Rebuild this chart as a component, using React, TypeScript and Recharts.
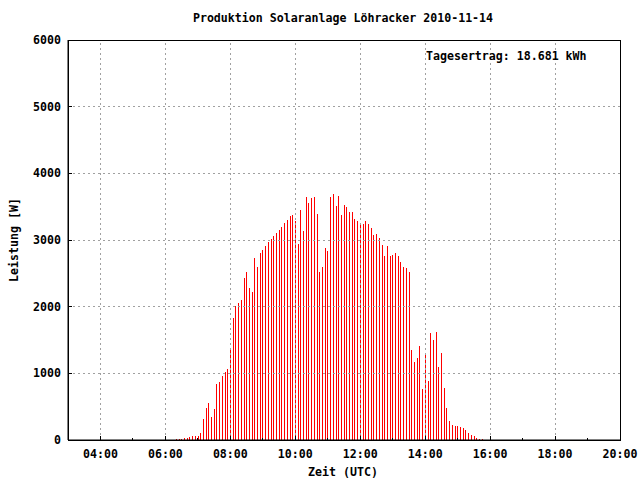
import { ComposedChart, Bar, XAxis, YAxis, ReferenceLine, ReferenceArea } from 'recharts';

// 5-minute samples, Leistung in W
const times = [
  '06:20', '06:25', '06:30', '06:35', '06:40', '06:45', '06:50', '06:55',
  '07:00', '07:05', '07:10', '07:15', '07:20', '07:25', '07:30', '07:35', '07:40', '07:45', '07:50', '07:55',
  '08:00', '08:05', '08:10', '08:15', '08:20', '08:25', '08:30', '08:35', '08:40', '08:45', '08:50', '08:55',
  '09:00', '09:05', '09:10', '09:15', '09:20', '09:25', '09:30', '09:35', '09:40', '09:45', '09:50', '09:55',
  '10:00', '10:05', '10:10', '10:15', '10:20', '10:25', '10:30', '10:35', '10:40', '10:45', '10:50', '10:55',
  '11:00', '11:05', '11:10', '11:15', '11:20', '11:25', '11:30', '11:35', '11:40', '11:45', '11:50', '11:55',
  '12:00', '12:05', '12:10', '12:15', '12:20', '12:25', '12:30', '12:35', '12:40', '12:45', '12:50', '12:55',
  '13:00', '13:05', '13:10', '13:15', '13:20', '13:25', '13:30', '13:35', '13:40', '13:45', '13:50', '13:55',
  '14:00', '14:05', '14:10', '14:15', '14:20', '14:25', '14:30', '14:35', '14:40', '14:45', '14:50', '14:55',
  '15:00', '15:05', '15:10', '15:15', '15:20', '15:25', '15:30', '15:35', '15:40', '15:45',
];

const power = [
  20, 20, 20, 35, 35, 50, 65, 65,
  65, 110, 320, 485, 560, 350, 470, 845, 875, 965, 1025, 1070,
  1385, 1835, 2015, 2060, 2105, 2435, 2525, 2285, 2225, 2735, 2600, 2810,
  2855, 2915, 2975, 3020, 3065, 3110, 3155, 3200, 3260, 3305, 3365, 3380,
  3290, 2945, 3455, 3140, 3650, 3560, 3635, 3650, 3395, 2525, 2600, 2885,
  2840, 3650, 3695, 3515, 3665, 3380, 3530, 3500, 3425, 3425, 3320, 3290,
  3260, 3245, 3290, 3245, 3185, 3080, 3095, 3035, 2930, 2765, 2915, 2765,
  2780, 2810, 2765, 2675, 2600, 2585, 2525, 1355, 1175, 1235, 1415, 770,
  1295, 890, 1610, 1505, 1625, 1100, 1310, 785, 485, 290, 230, 215,
  215, 200, 185, 155, 110, 80, 65, 35, 20, 20,
];

const hourTicks = [4, 5, 6, 7, 8, 9, 10, 11, 12, 13, 14, 15, 16, 17, 18, 19, 20];
const gridHours = [4, 6, 8, 10, 12, 14, 16, 18];
const powerTicks = [0, 1000, 2000, 3000, 4000, 5000, 6000];
const gridPower = [1000, 2000, 3000, 4000, 5000];

const toHours = (t: string) => {
  const [h, m] = t.split(':').map(Number);
  return h + m / 60;
};

const data = times.map((t, i) => ({ t: toHours(t), w: power[i] }));

const FONT = "'DejaVu Sans Mono', monospace";
const textStyle = { fontFamily: FONT, fontSize: 11.6, fontWeight: 700, fill: '#000' };

const fmtHour = (h: number) => `${String(h).padStart(2, '0')}:00`;

// gnuplot-style ticks point into the plot
function BottomTick(props: any) {
  const { x, y, payload } = props;
  const major = payload.value % 2 === 0;
  return (
    <g>
      <line x1={x} y1={y} x2={x} y2={y - (major ? 4 : 2)} stroke="#000" shapeRendering="crispEdges" />
      {major && (
        <text x={x} y={y + 18} textAnchor="middle" style={textStyle}>
          {fmtHour(payload.value)}
        </text>
      )}
    </g>
  );
}

function TopTick(props: any) {
  const { x, y, payload } = props;
  const major = payload.value % 2 === 0;
  return <line x1={x} y1={y} x2={x} y2={y + (major ? 4 : 2)} stroke="#000" shapeRendering="crispEdges" />;
}

function LeftTick(props: any) {
  const { x, y, payload } = props;
  return (
    <g>
      <line x1={x} y1={y} x2={x + 4} y2={y} stroke="#000" shapeRendering="crispEdges" />
      <text x={x - 7} y={y + 4} textAnchor="end" style={textStyle}>
        {payload.value}
      </text>
    </g>
  );
}

function RightTick(props: any) {
  const { x, y } = props;
  return <line x1={x} y1={y} x2={x - 4} y2={y} stroke="#000" shapeRendering="crispEdges" />;
}

// one-pixel impulse, kept sharp
function Impulse(props: any) {
  const { x, y, width, height } = props;
  return (
    <rect x={x} y={y} width={width} height={height} fill="#ff0000" shapeRendering="crispEdges" />
  );
}

export default function App() {
  return (
    <div style={{ position: 'absolute', left: 0, top: 0, width: 640, height: 480, background: '#fff' }}>
      <ComposedChart
        width={640}
        height={480}
        data={data}
        margin={{ top: 40, right: 20, bottom: 0, left: 0 }}
      >
        <XAxis
          dataKey="t"
          type="number"
          domain={[3, 20]}
          allowDataOverflow
          ticks={hourTicks}
          interval={0}
          height={40}
          tickSize={0}
          tickMargin={0}
          tickLine={false}
          axisLine={{ stroke: '#000' }}
          tick={<BottomTick />}
        />
        <XAxis
          xAxisId="top"
          orientation="top"
          type="number"
          domain={[3, 20]}
          ticks={hourTicks}
          interval={0}
          height={0}
          tickSize={0}
          tickMargin={0}
          tickLine={false}
          axisLine={false}
          tick={<TopTick />}
        />
        <YAxis
          type="number"
          domain={[0, 6000]}
          ticks={powerTicks}
          interval={0}
          width={68}
          tickSize={0}
          tickMargin={0}
          tickLine={false}
          axisLine={{ stroke: '#000' }}
          tick={<LeftTick />}
        />
        <YAxis
          yAxisId="right"
          orientation="right"
          type="number"
          domain={[0, 6000]}
          ticks={powerTicks}
          interval={0}
          width={0}
          tickSize={0}
          tickMargin={0}
          tickLine={false}
          axisLine={false}
          tick={<RightTick />}
        />
        {gridHours.map((h) => (
          <ReferenceLine key={`gx${h}`} x={h} stroke="#a0a0a0" strokeDasharray="2 3" shapeRendering="crispEdges" />
        ))}
        {gridPower.map((v) => (
          <ReferenceLine key={`gy${v}`} y={v} stroke="#a0a0a0" strokeDasharray="2 3" shapeRendering="crispEdges" />
        ))}
        <ReferenceArea
          x1={3}
          x2={20}
          y1={0}
          y2={6000}
          fill="none"
          fillOpacity={0}
          stroke="#000"
          strokeOpacity={1}
          shapeRendering="crispEdges"
        />
        <Bar dataKey="w" fill="#ff0000" barSize={1} shape={<Impulse />} isAnimationActive={false} />
      </ComposedChart>
      <svg
        width={640}
        height={480}
        style={{ position: 'absolute', left: 0, top: 0, pointerEvents: 'none' }}
      >
        <text x={343} y={22} textAnchor="middle" style={textStyle}>
          Produktion Solaranlage Löhracker 2010-11-14
        </text>
        <text x={426} y={60} textAnchor="start" style={textStyle}>
          Tagesertrag: 18.681 kWh
        </text>
        <text x={343} y={476} textAnchor="middle" style={textStyle}>
          Zeit (UTC)
        </text>
        <text x={18} y={240} textAnchor="middle" transform="rotate(-90 18 240)" style={textStyle}>
          Leistung [W]
        </text>
      </svg>
    </div>
  );
}
